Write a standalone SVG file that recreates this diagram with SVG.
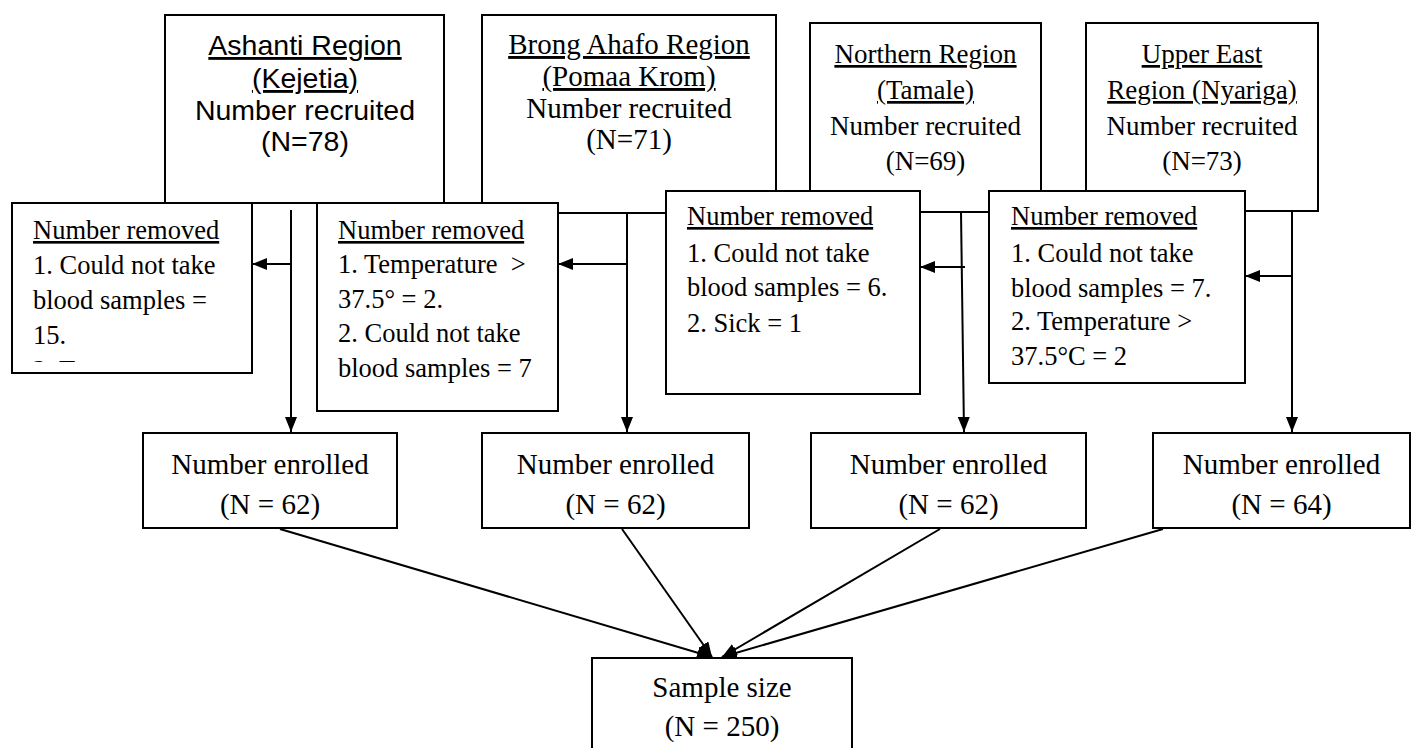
<svg xmlns="http://www.w3.org/2000/svg" width="1421" height="748" viewBox="0 0 1421 748">
<style>
.box{fill:#fff;stroke:#000;stroke-width:2}
.sans{font-family:"Liberation Sans",Arial,sans-serif;fill:#000}
.serif{font-family:"Liberation Serif","Times New Roman",serif;fill:#000}
.c{text-anchor:middle}
.u{text-decoration:underline}
.ln{fill:none;stroke:#000;stroke-width:2}
</style>
<defs>
<marker id="ah" markerUnits="userSpaceOnUse" markerWidth="16" markerHeight="12" refX="15" refY="6" orient="auto">
<path d="M0,0 L15,6 L0,12 Z" fill="#000"/>
</marker>
<clipPath id="clipR1"><rect x="12" y="203" width="240" height="159"/></clipPath>
</defs>
<rect width="1421" height="748" fill="#fff"/>

<g id="region-ashanti">
<rect class="box" x="165" y="15" width="279" height="188"/>
<text class="sans c" font-size="28.5"><tspan class="u" x="305" y="55">Ashanti Region</tspan><tspan class="u" x="305" y="88">(Kejetia)</tspan><tspan x="305" y="120">Number recruited</tspan><tspan x="305" y="151">(N=78)</tspan></text>
</g>
<g id="region-brong">
<rect class="box" x="482" y="15" width="294" height="198"/>
<text class="serif c" font-size="29"><tspan class="u" x="629" y="54">Brong Ahafo Region</tspan><tspan class="u" x="629" y="86">(Pomaa Krom)</tspan><tspan x="629" y="118">Number recruited</tspan><tspan x="629" y="149">(N=71)</tspan></text>
</g>
<g id="region-northern">
<rect class="box" x="810" y="23" width="231" height="189"/>
<text class="serif c" font-size="27"><tspan class="u" x="925.5" y="63">Northern Region</tspan><tspan class="u" x="925.5" y="99">(Tamale)</tspan><tspan x="925.5" y="135">Number recruited</tspan><tspan x="925.5" y="170">(N=69)</tspan></text>
</g>
<g id="region-uppereast">
<rect class="box" x="1086" y="23" width="232" height="188"/>
<text class="serif c" font-size="27"><tspan class="u" x="1202" y="63">Upper East</tspan><tspan class="u" x="1202" y="99">Region (Nyariga)</tspan><tspan x="1202" y="135">Number recruited</tspan><tspan x="1202" y="170">(N=73)</tspan></text>
</g>

<g id="connectors">
<path class="ln" d="M291,210 V432" marker-end="url(#ah)"/>
<path class="ln" d="M291,264 H252" marker-end="url(#ah)"/>
<path class="ln" d="M627,213 V432" marker-end="url(#ah)"/>
<path class="ln" d="M627,264 H558" marker-end="url(#ah)"/>
<path class="ln" d="M961,212 L964,432" marker-end="url(#ah)"/>
<path class="ln" d="M965,267 H920" marker-end="url(#ah)"/>
<path class="ln" d="M1292,212 V432" marker-end="url(#ah)"/>
<path class="ln" d="M1292,276 H1245" marker-end="url(#ah)"/>
<path class="ln" d="M280,529 L712,657" marker-end="url(#ah)"/>
<path class="ln" d="M622,529 L712,657" marker-end="url(#ah)"/>
<path class="ln" d="M940,529 L722,657" marker-end="url(#ah)"/>
<path class="ln" d="M1163,529 L722,657" marker-end="url(#ah)"/>
</g>

<g id="removed-ashanti">
<rect class="box" x="12" y="203" width="240" height="170"/>
<text class="serif" font-size="26.5" clip-path="url(#clipR1)"><tspan class="u" x="33" y="239">Number removed</tspan><tspan x="33" y="274">1. Could not take</tspan><tspan x="33" y="309">blood samples =</tspan><tspan x="33" y="344">15.</tspan><tspan x="33" y="379">2. Temperature &gt;</tspan></text>
</g>
<g id="removed-brong">
<rect class="box" x="317" y="203" width="241" height="208"/>
<text class="serif" font-size="26.5"><tspan class="u" x="338" y="239">Number removed</tspan><tspan x="338" y="273">1. Temperature&#160; &gt;</tspan><tspan x="338" y="308">37.5° = 2.</tspan><tspan x="338" y="342">2. Could not take</tspan><tspan x="338" y="377">blood samples = 7</tspan></text>
</g>
<g id="removed-northern">
<rect class="box" x="666" y="191" width="254" height="203"/>
<text class="serif" font-size="26.5"><tspan class="u" x="687" y="225">Number removed</tspan><tspan x="687" y="262">1. Could not take</tspan><tspan x="687" y="296">blood samples = 6.</tspan><tspan x="687" y="332">2. Sick = 1</tspan></text>
</g>
<g id="removed-uppereast">
<rect class="box" x="989" y="191" width="256" height="192"/>
<text class="serif" font-size="26.5"><tspan class="u" x="1011" y="225">Number removed</tspan><tspan x="1011" y="262">1. Could not take</tspan><tspan x="1011" y="297">blood samples = 7.</tspan><tspan x="1011" y="330">2. Temperature &gt;</tspan><tspan x="1011" y="365">37.5°C = 2</tspan></text>
</g>

<g id="enrolled-ashanti">
<rect class="box" x="143" y="433" width="254" height="95"/>
<text class="serif c" font-size="29"><tspan x="270" y="474">Number enrolled</tspan><tspan x="270" y="514">(N = 62)</tspan></text>
</g>
<g id="enrolled-brong">
<rect class="box" x="482" y="433" width="267" height="95"/>
<text class="serif c" font-size="29"><tspan x="615.5" y="474">Number enrolled</tspan><tspan x="615.5" y="514">(N = 62)</tspan></text>
</g>
<g id="enrolled-northern">
<rect class="box" x="811" y="433" width="275" height="95"/>
<text class="serif c" font-size="29"><tspan x="948.5" y="474">Number enrolled</tspan><tspan x="948.5" y="514">(N = 62)</tspan></text>
</g>
<g id="enrolled-uppereast">
<rect class="box" x="1153" y="433" width="257" height="95"/>
<text class="serif c" font-size="29"><tspan x="1281.5" y="474">Number enrolled</tspan><tspan x="1281.5" y="514">(N = 64)</tspan></text>
</g>

<g id="sample-size">
<rect class="box" x="592" y="658" width="260" height="95"/>
<text class="serif c" font-size="29"><tspan x="722" y="697">Sample size</tspan><tspan x="722" y="736">(N = 250)</tspan></text>
</g>
</svg>
